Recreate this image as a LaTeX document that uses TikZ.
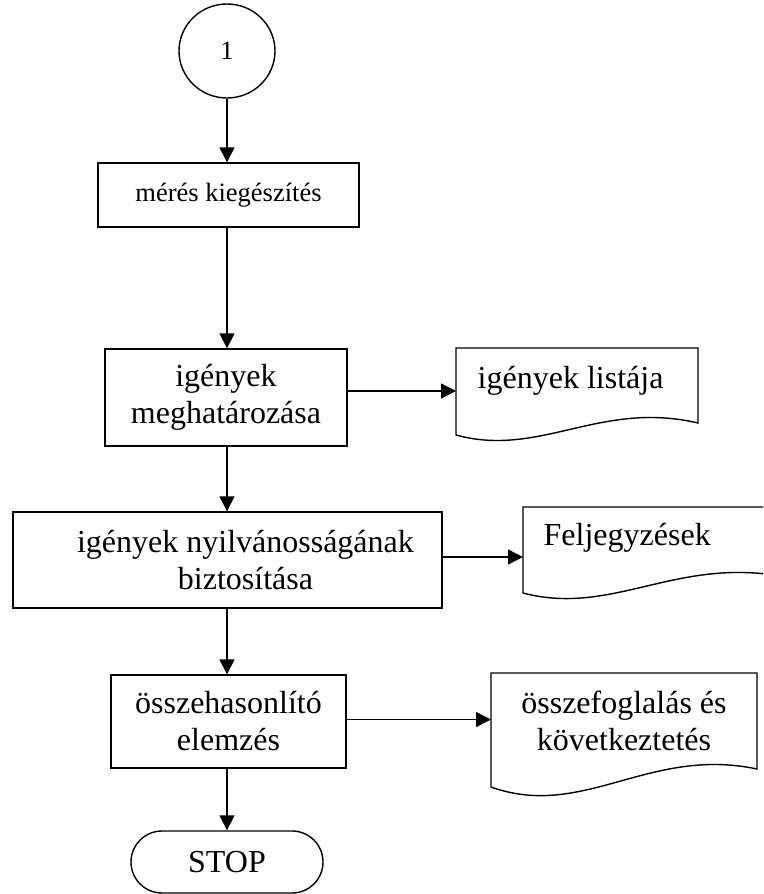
\documentclass[tikz,border=0pt]{standalone}
\usepackage{fontspec}
\setmainfont{Liberation Serif}
\usetikzlibrary{arrows.meta,shapes.geometric}
\begin{document}
\begin{tikzpicture}[x=1pt,y=-1pt,line width=1.4pt,
  big/.style={font=\fontsize{32}{37}\selectfont},
  small/.style={font=\fontsize{26.5}{30}\selectfont},
  box/.style={draw,rectangle,inner sep=0pt,align=center},
  arr/.style={-{Triangle[length=15pt,width=15pt]}},
  docline/.style={line join=miter}
]
\useasboundingbox (0,0) rectangle (763,894);

% start connector
\node[ellipse,draw,inner sep=0pt,minimum width=96pt,minimum height=94pt,small] (start) at (227,51) {1};

% process boxes
\node[box,small,minimum width=261pt,minimum height=64pt] (b1) at (228.5,195) {mérés kiegészítés};
\node[box,big,minimum width=242pt,minimum height=97pt] (b2) at (226,397.5) {igények\\meghatározása};
\node[box,big,minimum width=429pt,minimum height=96pt] (b3) at (227.5,560) {\hspace*{36pt}igények nyilvánosságának\\\hspace*{36pt}biztosítása};
\node[box,big,minimum width=235pt,minimum height=93pt] (b4) at (228.5,721.5) {összehasonlító\\elemzés};

% terminator
\node[draw,rectangle,rounded corners=31pt,inner sep=0pt,minimum width=192pt,minimum height=62pt,big] (stop) at (227,862) {STOP};

% documents
\draw[docline] (456,435) -- (456,348) -- (698,348) -- (698,423)
  .. controls (600,400) and (540,458) .. (456,435) -- cycle;
\node[big,anchor=base west,inner sep=0pt] (t1) at (477,388) {igények listája};
\coordinate (d1in) at (456,391);

\begin{scope}
\clip (0,0) rectangle (763,894);
\draw[docline] (523,593) -- (523,507) -- (790,507) -- (790,578)
  .. controls (679,554) and (614,617) .. (523,593) -- cycle;
\end{scope}
\node[big,anchor=base west,inner sep=0pt] (t2) at (543,545) {Feljegyzések};
\coordinate (d2in) at (523,557);

\draw[docline] (491,787) -- (491,673) -- (757,673) -- (757,769)
  .. controls (649,746) and (583,820) .. (491,787) -- cycle;
\node[big,align=center,inner sep=0pt] (t3) at (624,720.5) {összefoglalás és\\következtetés};
\coordinate (d3in) at (491,719.5);

% vertical flow
\draw[arr] (start.south) -- (start.south |- b1.north);
\draw[arr] (start.south |- b1.south) -- (start.south |- b2.north);
\draw[arr] (start.south |- b2.south) -- (start.south |- b3.north);
\draw[arr] (start.south |- b3.south) -- (start.south |- b4.north);
\draw[arr] (start.south |- b4.south) -- (stop.north);

% side outputs
\draw[arr] (b2.east |- d1in) -- (d1in);
\draw[arr] (b3.east |- d2in) -- (d2in);
\draw[arr] (b4.east |- d3in) -- (d3in);
\end{tikzpicture}
\end{document}
